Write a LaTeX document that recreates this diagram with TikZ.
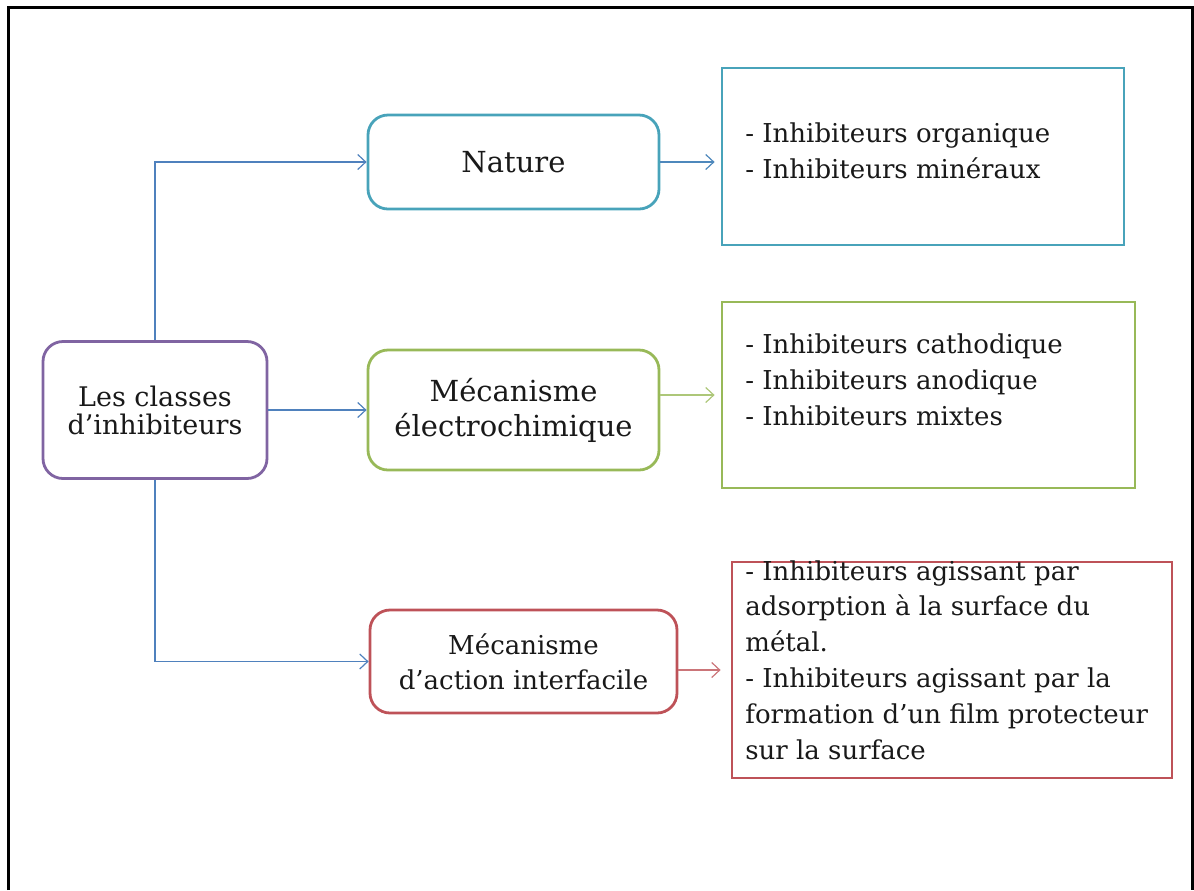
\documentclass[tikz,border=0pt]{standalone}
\usepackage{fontspec}
\setmainfont{DejaVu Serif}
\usepackage{tikz}
\usetikzlibrary{arrows.meta}
\tikzset{>={Straight Barb[length=4pt,width=7.5pt]}}
\definecolor{natcol}{RGB}{72,163,186}
\definecolor{eleccol}{RGB}{152,185,88}
\definecolor{intercol}{RGB}{190,82,88}
\definecolor{rootcol}{RGB}{128,100,162}
\definecolor{linkcol}{RGB}{79,129,189}
\definecolor{inkcol}{RGB}{25,25,25}
\tikzset{class box/.style = {draw, rounded corners=10pt, line width=1.4pt, align=center, inner sep=0pt, text=inkcol, font=\fontsize{14.5}{17.5}\selectfont}}
\tikzset{list box/.style = {draw, line width=1.4pt, inner sep=0pt}}
\tikzset{list text/.style = {anchor=north west, align=left, inner sep=0pt, text=inkcol, font=\fontsize{13}{18}\selectfont}}
\tikzset{link/.style = {->, line width=0.6pt, draw=linkcol}}

\begin{document}
\begin{tikzpicture}[x=0.5pt, y=-0.5pt]
		\useasboundingbox (0,0) rectangle (1194,890);
		% Frame
		\draw[line width=1.5pt] (8,890) -- (8,7) -- (1192,7) -- (1192,890);
		
		% Classes
		\node[class box, draw=rootcol, minimum width=112pt, minimum height=68.5pt, font=\fontsize{13.5}{14}\selectfont] (root) at (155,410) {Les classes\\d’inhibiteurs};
		\node[class box, draw=natcol, minimum width=145.5pt, minimum height=47pt] (nature) at (513.5,162) {Nature};
		\node[class box, draw=eleccol, minimum width=145.5pt, minimum height=60pt] (elec) at (513.5,410) {Mécanisme\\électrochimique};
		\node[class box, draw=intercol, minimum width=153.5pt, minimum height=51.5pt, font=\fontsize{13}{17.5}\selectfont] (inter) at (523.5,661.5) {Mécanisme\\d’action interfacile};
		
		% Lists
		\node[list box, draw=natcol, minimum width=201pt, minimum height=88.5pt] (natlist) at (923,156.5) {};
		\node[list text] (nattext) at (745,122) {- Inhibiteurs organique\\- Inhibiteurs minéraux};
		%
		\node[list box, draw=eleccol, minimum width=206.5pt, minimum height=93pt] (eleclist) at (928.5,395) {};
		\node[list text] (electext) at (745,333) {- Inhibiteurs cathodique\\- Inhibiteurs anodique\\- Inhibiteurs mixtes};
		%
		\node[list box, draw=intercol, minimum width=220pt, minimum height=108pt] (interlist) at (952,670) {};
		\node[list text, font=\fontsize{13}{17.9}\selectfont] (intertext) at (745,560) {- Inhibiteurs agissant par\\adsorption à la surface du\\métal.\\- Inhibiteurs agissant par la\\formation d’un film protecteur\\sur la surface};
		
		% Links
		\draw[link] (root.north) |- (nature.west);
		\draw[link] (root.east) -- (elec.west);
		\draw[link] (root.south) |- (inter.west);
		%
		\draw[link, draw=linkcol!80!natcol, shorten >=3pt] (nature.east) -- (nature.east -| natlist.west);
		\draw[link, draw=eleccol!80, shorten >=3pt] (eleclist.west -| elec.east) -- (eleclist.west);
		\draw[link, draw=intercol!80, shorten >=5pt] (interlist.west -| inter.east) -- (interlist.west);
	\end{tikzpicture}
\end{document}
